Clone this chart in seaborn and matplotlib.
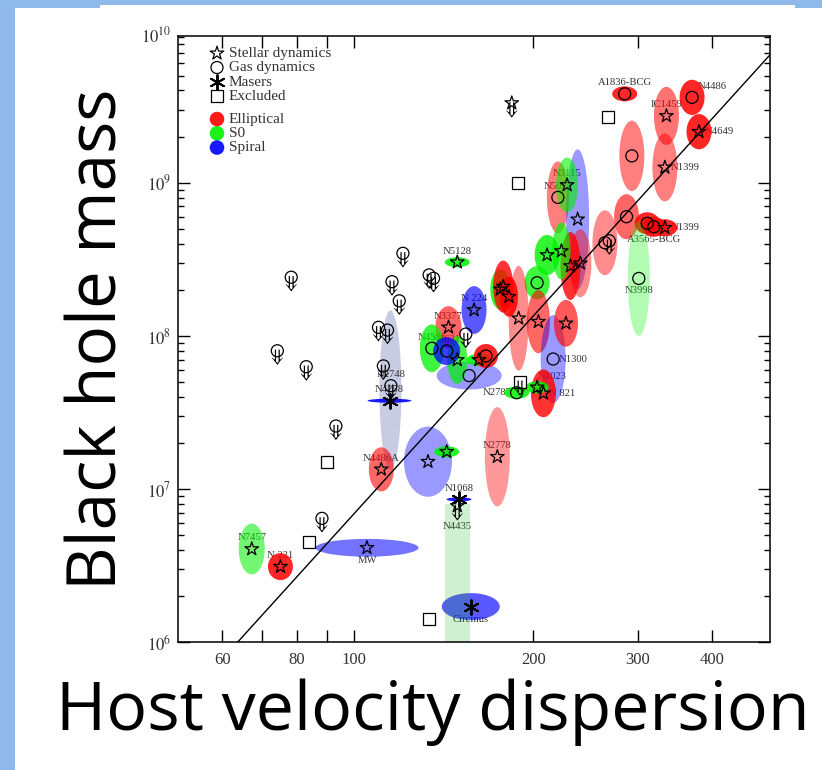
import numpy as np
import pandas as pd
import matplotlib
matplotlib.use("Agg")
import matplotlib.pyplot as plt
import seaborn as sns
from matplotlib.patches import Ellipse, Rectangle

# ---------------- data ----------------
# black holes with error ellipses: sigma [km/s], log10(M/Msun), 1-sigma errors in dex
bh_names = ['A1836-BCG', 'N4486', 'IC1459', 'N4649', '', 'N1399', '', '', 'A3565-BCG', 'N1399',
            '', 'N3998', 'N5077', '', 'N3115', '', '', '', '', '',
            '', '', '', '', '', 'N1300', '', 'N5128', 'N 224', 'N3377',
            'N4596', '', '', 'N4621', '', '', 'N2787', 'N 821', 'N1023', 'N2778',
            '', '', 'N4486A', 'N1068', 'Circinus', 'MW', 'N7457', 'N 221', 'N4258']
bh_sigma = [285, 370, 335, 380, 293, 333, 287, 311, 319, 333,
            264, 301, 220, 237.5, 228, 240, 231, 211, 223, 203,
            176, 178, 182, 189, 204, 216, 227, 149, 159, 144,
            135, 156, 149, 143, 162, 166.5, 187.5, 208, 203, 174,
            133, 143, 111, 150, 157, 105, 67.2, 75.1, 114.6]
bh_logm = [9.58, 9.557, 9.436, 9.333, 9.175, 9.100, 8.778, 8.735, 8.712, 8.706,
           8.608, 8.375, 8.904, 8.761, 8.985, 8.474, 8.456, 8.528, 8.554, 8.347,
           8.304, 8.322, 8.256, 8.115, 8.093, 7.849, 8.082, 8.481, 8.169, 8.056,
           7.919, 7.741, 7.843, 7.901, 7.843, 7.869, 7.629, 7.625, 7.664, 7.211,
           7.179, 7.244, 7.129, 6.933, 6.233, 6.617, 6.609, 6.494, 7.577]
bh_sig_err = [0.021, 0.021, 0.021, 0.021, 0.021, 0.021, 0.021, 0.021, 0.021, 0.021,
              0.021, 0.0185, 0.0185, 0.0194, 0.0185, 0.0185, 0.0168, 0.021, 0.0152, 0.021,
              0.0168, 0.0168, 0.0152, 0.0168, 0.0194, 0.021, 0.0202, 0.021, 0.021, 0.0219,
              0.0202, 0.0547, 0.0168, 0.0227, 0.021, 0.0202, 0.021, 0.021, 0.0194, 0.021,
              0.0404, 0.021, 0.021, 0.021, 0.0488, 0.0867, 0.0219, 0.021, 0.037]
bh_m_err = [0.049, 0.115, 0.19, 0.115, 0.23, 0.222, 0.147, 0.072, 0.065, 0.055,
            0.212, 0.376, 0.235, 0.457, 0.179, 0.222, 0.222, 0.131, 0.186, 0.108,
            0.131, 0.17, 0.131, 0.342, 0.206, 0.287, 0.153, 0.033, 0.156, 0.138,
            0.156, 0.091, 0.156, 0.091, 0.04, 0.078, 0.04, 0.156, 0.04, 0.324,
            0.229, 0.036, 0.144, 0.013, 0.088, 0.058, 0.166, 0.088, 0.013]
bh_type = ['E', 'E', 'E', 'E', 'E', 'E', 'E', 'E', 'E', 'E',
           'E', 'S0', 'E', 'S', 'S0', 'E', 'E', 'S0', 'S0', 'S0',
           'S0', 'E', 'E', 'E', 'E', 'S', 'E', 'S0', 'S', 'E',
           'S0', 'S', 'S0', 'S', 'S0', 'E', 'S0', 'E', 'S0', 'E',
           'S', 'S0', 'E', 'S', 'S', 'S', 'S0', 'E', 'S']
bh_shade = [0.85, 0.85, 0.55, 0.85, 0.5, 0.5, 0.6, 0.85, 0.85, 0.85,
            0.45, 0.3, 0.5, 0.4, 0.6, 0.45, 0.8, 0.8, 0.7, 0.75,
            0.8, 0.8, 0.85, 0.45, 0.6, 0.4, 0.65, 0.85, 0.65, 0.6,
            0.75, 0.4, 0.7, 0.75, 0.85, 0.85, 0.85, 0.8, 0.85, 0.4,
            0.4, 0.85, 0.6, 0.9, 0.65, 0.55, 0.55, 0.85, 0.9]
bh_method = ['gas', 'gas', 'star', 'star', 'gas', 'star', 'gas', 'gas', 'gas', 'star',
             'gas', 'gas', 'gas', 'star', 'star', 'star', 'star', 'star', 'star', 'gas',
             'star', 'star', 'star', 'star', 'star', 'gas', 'star', 'star', 'star', 'star',
             'gas', 'gas', 'star', 'gas', 'star', 'gas', 'gas', 'star', 'star', 'star',
             'star', 'star', 'star', 'maser', 'maser', 'star', 'star', 'star', 'maser']

# upper limits (gas dynamics)
ul_gas_sigma = [78.3, 74.2, 83.0, 93.1, 115.7, 119, 109.8, 113.7, 111.9, 115.2,
                120.7, 133.6, 135.9, 154, 88.2, 268.5]
ul_gas_logm = [8.383, 7.903, 7.799, 7.412, 8.354, 8.229, 8.056, 8.038, 7.804, 7.675,
               8.539, 8.398, 8.376, 8.012, 6.809, 8.621]
ul_gas_names = ['', '', '', '', '', '', '', '', '', 'N2748', '', '', '', '', '', '']
# upper limits (stellar dynamics) and excluded upper limit
ul_star_sigma = [184, 149]
ul_star_logm = [9.520, 6.890]
ul_star_names = ['', 'N4435']
ul_sq_sigma = [190]
ul_sq_logm = [7.701]
# excluded objects
excl_sigma = [267, 188.5, 89.9, 84.0, 133.6]
excl_logm = [9.427, 9.000, 7.179, 6.657, 6.150]

# broad uncertainty regions without a plotted measurement
wide_sigma = [115]
wide_logm = [7.647]
wide_sig_err = [0.0185]
wide_m_err = [0.52]
band_sigma = [149]
band_logm_top = [6.902]
band_sig_err = [0.021]

# M-sigma relation
relation_norm = 8.13
relation_slope = 4.28
relation_pivot = 200.0

x_ticks = [60, 70, 80, 90, 100, 200, 300, 400]
x_tick_labels = ['60', '', '80', '', '100', '200', '300', '400']
y_ticks = [6, 7, 8, 9]
y_tick_labels = [r'$10^{6}$', r'$10^{7}$', r'$10^{8}$', r'$10^{9}$']

legend_method_labels = ['Stellar dynamics', 'Gas dynamics', 'Masers', 'Excluded']
legend_type_labels = ['Elliptical', 'S0', 'Spiral']

# ---------------- style ----------------
sns.set_style("ticks")
plt.rcParams['font.family'] = ['Liberation Serif', 'DejaVu Serif']
plt.rcParams['mathtext.fontset'] = 'stix'

type_colors = {'E': (1.0, 0.0, 0.0), 'S0': (0.0, 0.95, 0.0), 'S': (0.0, 0.0, 1.0)}
label_offsets = {
    'A1836-BCG': (0, 8, 'center'), 'N4486': (4, 8, 'left'), 'IC1459': (0, 8.5, 'center'),
    'N4649': (4, 0, 'left'), 'N1399': (4, 0, 'left'), 'A3565-BCG': (0, -9, 'center'),
    'N3998': (0, -8.5, 'center'), 'N3115': (0, 8, 'center'), 'N5077': (0, 8, 'center'),
    'N5128': (0, 8, 'center'), 'N 224': (0, 8, 'center'), 'N3377': (0, 8, 'center'),
    'N4596': (0, 8, 'center'), 'N4621': (0, 8, 'center'), 'N1300': (4, 0, 'left'),
    'N2787': (-4, 0, 'right'), 'N1023': (11, 8, 'center'), 'N 821': (4, 0, 'left'),
    'N2778': (0, 8, 'center'), 'N4486A': (0, 8, 'center'), 'N1068': (0, 8, 'center'),
    'N4435': (0, -15, 'center'), 'Circinus': (0, -9, 'center'), 'MW': (0, -9, 'center'),
    'N7457': (0, 8.5, 'center'), 'N 221': (0, 8, 'center'), 'N4258': (0, 8, 'center'),
    'N2748': (0, 8, 'center'),
}

df = pd.DataFrame({'name': bh_names, 'sigma': bh_sigma, 'logm': bh_logm,
                   'sig_err': bh_sig_err, 'm_err': bh_m_err, 'type': bh_type,
                   'shade': bh_shade, 'method': bh_method})
df['lx'] = np.log10(df['sigma'])

fig = plt.figure(figsize=(8.22, 7.70), dpi=100)
fig.patch.set_facecolor('white')
slide_blue = '#8fb9ea'
fig.add_artist(Rectangle((0, 0), 15 / 822, 1, transform=fig.transFigure,
                         facecolor=slide_blue, edgecolor='none', zorder=-5))
fig.add_artist(Rectangle((0, 1 - 8 / 770), 1, 8 / 770, transform=fig.transFigure,
                         facecolor=slide_blue, edgecolor='none', zorder=-5))
fig.add_artist(Rectangle((100 / 822, 1 - 8 / 770), 695 / 822, 3 / 770, transform=fig.transFigure,
                         facecolor='white', edgecolor='none', zorder=-4))

ax = fig.add_axes([178 / 822, 1 - 642.3 / 770, 591.8 / 822, 606.3 / 770])
ax.set_facecolor('white')
ax.set_xlim(np.log10(50.5), np.log10(500))
ax.set_ylim(6, 6 + 606.3 / 153.2)

# broad regions
for sx, my, ex, ey in zip(wide_sigma, wide_logm, wide_sig_err, wide_m_err):
    ax.add_patch(Ellipse((np.log10(sx), my), 2 * ex, 2 * ey, facecolor=(0.78, 0.80, 0.89),
                         edgecolor='none', zorder=1.2))

# error ellipses
for r in df.itertuples():
    ax.add_patch(Ellipse((r.lx, r.logm), 2 * r.sig_err, 2 * r.m_err,
                         facecolor=type_colors[r.type], alpha=r.shade,
                         edgecolor='none', zorder=2))
for sx, top, ex in zip(band_sigma, band_logm_top, band_sig_err):
    lx = np.log10(sx)
    ax.add_patch(Rectangle((lx - ex, 5.5), 2 * ex, top - 5.5, facecolor=(0.1, 0.7, 0.1),
                           alpha=0.2, edgecolor='none', zorder=2.1))

# relation line
xs = np.array(ax.get_xlim())
ys = relation_norm + relation_slope * (xs - np.log10(relation_pivot))
sns.lineplot(x=xs, y=ys, color='black', linewidth=1.0, ax=ax, zorder=3)

# markers
star_kw = dict(marker='*', s=105, facecolor='none', edgecolor='black', linewidth=0.9)
circ_kw = dict(marker='o', s=75, facecolor='none', edgecolor='black', linewidth=0.9)
sq_kw = dict(marker='s', s=75, facecolor='none', edgecolor='black', linewidth=0.9)
maser_kw = dict(marker=(6, 2, 0), s=110, color='black', linewidth=1.4)
arrow_kw = dict(marker=r'$\Downarrow$', s=120, color='black', edgecolor='none', linewidth=0)

sub = df[df.method == 'star']
sns.scatterplot(x=sub.lx, y=sub.logm, ax=ax, zorder=4, legend=False, **star_kw)
sub = df[df.method == 'gas']
sns.scatterplot(x=sub.lx, y=sub.logm, ax=ax, zorder=4, legend=False, **circ_kw)
sub = df[df.method == 'maser']
sns.scatterplot(x=sub.lx, y=sub.logm, ax=ax, zorder=4, legend=False, **maser_kw)

ulx = np.log10(ul_gas_sigma)
uly = np.array(ul_gas_logm)
sns.scatterplot(x=ulx, y=uly, ax=ax, zorder=4, legend=False, **circ_kw)
sns.scatterplot(x=ulx, y=uly - 0.042, ax=ax, zorder=4, legend=False, **arrow_kw)
usx = np.log10(ul_star_sigma)
usy = np.array(ul_star_logm)
sns.scatterplot(x=usx, y=usy, ax=ax, zorder=4, legend=False, **star_kw)
sns.scatterplot(x=usx, y=usy - 0.045, ax=ax, zorder=4, legend=False, **arrow_kw)
uqx = np.log10(ul_sq_sigma)
uqy = np.array(ul_sq_logm)
sns.scatterplot(x=uqx, y=uqy, ax=ax, zorder=4, legend=False, **sq_kw)
sns.scatterplot(x=uqx, y=uqy - 0.042, ax=ax, zorder=4, legend=False, **arrow_kw)
sns.scatterplot(x=np.log10(excl_sigma), y=excl_logm, ax=ax, zorder=4, legend=False, **sq_kw)

# object labels
def put_label(name, lx, ly):
    if not name:
        return
    dx, dy, ha = label_offsets[name]
    ax.annotate(name, (lx, ly), xytext=(dx, dy), textcoords='offset points',
                ha=ha, va='center', fontsize=7.7, color='#333333', zorder=1.5)

for r in df.itertuples():
    put_label(r.name, r.lx, r.logm)
for n, x, y in zip(ul_gas_names, ulx, uly):
    put_label(n, x, y)
for n, x, y in zip(ul_star_names, usx, usy):
    put_label(n, x, y)

# ticks
ax.set_xticks(np.log10(x_ticks))
ax.set_xticklabels(x_tick_labels)
ax.set_xticks([], minor=True)
ax.set_yticks(y_ticks)
ax.set_yticklabels(y_tick_labels)
ax.set_yticks([np.log10(m) + e for e in range(6, 10) for m in range(2, 10)], minor=True)
ax.tick_params(which='both', direction='in', top=True, right=True, width=1.0,
               colors='black', labelsize=12, labelcolor='#333333')
ax.tick_params(which='major', length=8.6, pad=5)
ax.tick_params(which='minor', length=4.3)
ax.tick_params(axis='x', pad=7)
ax.text(-0.012, 1.0, r'$10^{10}$', transform=ax.transAxes, ha='right', va='center',
        fontsize=12, color='#333333')
for sp in ax.spines.values():
    sp.set_linewidth(1.1)
    sp.set_color('black')
ax.set_xlabel('')
ax.set_ylabel('')

# legend
lx0, tx0 = 0.0659, 0.0855
leg_y = [0.9715, 0.948, 0.924, 0.901]
leg_markers = [star_kw, circ_kw, maser_kw, sq_kw]
for yy, lab, kw in zip(leg_y, legend_method_labels, leg_markers):
    ax.scatter([lx0], [yy], transform=ax.transAxes, zorder=5, **kw)
    ax.text(tx0, yy, lab, transform=ax.transAxes, ha='left', va='center', fontsize=11,
            color='#333333')
leg_y2 = [0.863, 0.8395, 0.816]
for yy, lab, t in zip(leg_y2, legend_type_labels, ['E', 'S0', 'S']):
    ax.scatter([lx0], [yy], transform=ax.transAxes, marker='o', s=110,
               color=type_colors[t], alpha=0.9, edgecolor='none', zorder=5)
    ax.text(tx0, yy, lab, transform=ax.transAxes, ha='left', va='center', fontsize=11,
            color='#333333')

# slide axis titles, scaled to the extent they occupy on the slide
title_font = ['Open Sans', 'DejaVu Sans']
ylab = fig.text(99 / 822, 1 - 339 / 770, 'Black hole mass', rotation=90, ha='center',
                va='center', fontsize=40, family=title_font, color='black')
xlab = fig.text(432.5 / 822, 1 - 730 / 770, 'Host velocity dispersion', ha='center',
                va='baseline', fontsize=40, family=title_font, color='black')
fig.canvas.draw()
rend = fig.canvas.get_renderer()
h_now = ylab.get_window_extent(rend).height
ylab.set_fontsize(40 * 500 / h_now)
w_now = xlab.get_window_extent(rend).width
xlab.set_fontsize(40 * 753 / w_now)

fig.savefig('out.png', dpi=100)
